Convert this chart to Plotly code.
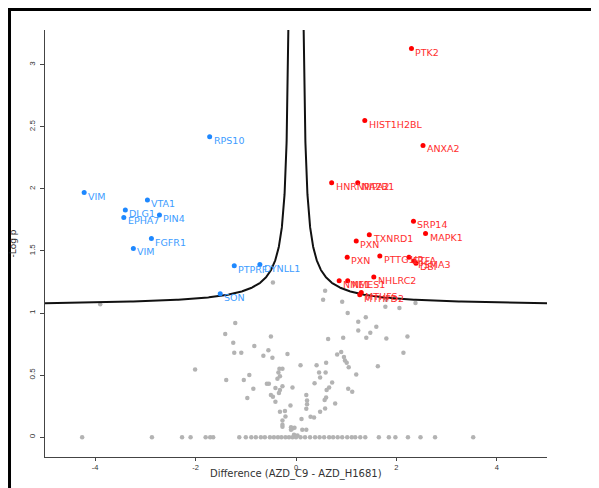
import numpy as np
import plotly.graph_objects as go

# ---- data ----
neg_genes = ["RPS10", "VIM", "VTA1", "DLG1", "EPHA7", "PIN4", "FGFR1", "VIM", "PTPRF", "DYNLL1", "SON"]
neg_x = [-1.72, -4.22, -2.96, -3.40, -3.43, -2.72, -2.88, -3.24, -1.23, -0.72, -1.51]
neg_y = [2.42, 1.97, 1.91, 1.83, 1.77, 1.79, 1.60, 1.52, 1.38, 1.39, 1.155]

pos_genes = ["PTK2", "HIST1H2BL", "ANXA2", "HNRNPA2B1", "NIPA2", "SRP14", "TXNRD1", "MAPK1",
             "PXN", "PXN", "PTTG1IP", "ETFA", "PSMA3", "DBI", "NHLRC2", "NME1", "NMES1",
             "MTHFS", "MTHFD2"]
pos_x = [2.30, 1.37, 2.53, 0.71, 1.23, 2.34, 1.46, 2.58, 1.20, 1.02, 1.67, 2.25, 2.35, 2.39,
         1.55, 0.86, 1.03, 1.30, 1.27]
pos_y = [3.13, 2.55, 2.35, 2.05, 2.05, 1.74, 1.63, 1.64, 1.58, 1.45, 1.46, 1.45, 1.42, 1.40,
         1.29, 1.26, 1.26, 1.165, 1.147]

ns_x = [-3.90, -0.46, 0.58, 0.54, 0.92, 1.80, 2.38, 1.78, 2.06,
        1.03, 1.39, 1.24, 1.60, 1.24, 1.48, 2.22, 0.64, 0.94, 1.40, 1.80, 2.14, 0.90, 0.82,
        0.955, 0.975, 1.01, 1.05, 1.63, 0.09, 0.41, 0.60, 0.46, 0.59, 1.20, 0.48, 0.72, 0.37,
        0.66, 0.61, 1.04, 1.12, 0.205, 0.60, 0.57, 0.22, 0.22, 0.78, 0.58, 0.205, 0.48, 0.29,
        0.36, 0.11, 0.125, 0.205,
        -1.21, -1.41, -0.50, -1.25, -0.83, -1.23, -1.09, -0.55, -0.17, -0.65, -0.47, -2.01,
        -0.33, -0.27, -0.35, -0.93, -0.32, -1.39, -1.04, -0.37, -0.58, -0.54, -0.27, -0.41,
        -0.07, -0.85, -0.32, -0.34, -0.50, -0.46, -0.97, -0.41, -0.11, -0.32, -0.22, -0.21,
        -0.27, -0.27, -0.27, -0.10, -0.07, -0.10, -0.03, -0.04, 0.00, 0.03,
        -4.26, -2.87, -2.27, -2.10, -1.80, -1.71, -1.65, -1.13, -1.00, -0.89, -0.80, -0.70,
        -0.62, -0.52, -0.44, -0.36, -0.29, -0.21, -0.14, -0.07, 0.00, 0.09, 0.18, 0.28, 0.38,
        0.47, 0.56, 0.66, 0.74, 0.83, 0.92, 1.02, 1.11, 1.18, 1.28, 1.38, 1.65, 1.85, 1.98,
        2.23, 2.48, 2.77, 3.53]
ns_y = [1.07, 1.245, 1.18, 1.106, 1.09, 1.106, 1.08, 1.05, 1.04,
        1.00, 0.965, 0.93, 0.89, 0.86, 0.84, 0.81, 0.79, 0.80, 0.80, 0.795, 0.68, 0.685, 0.665,
        0.645, 0.617, 0.60, 0.564, 0.572, 0.58, 0.58, 0.60, 0.52, 0.52, 0.505, 0.48, 0.44, 0.435,
        0.40, 0.38, 0.39, 0.365, 0.34, 0.32, 0.30, 0.295, 0.265, 0.27, 0.23, 0.228, 0.204, 0.164,
        0.158, 0.147, 0.059, 0.059,
        0.92, 0.83, 0.81, 0.76, 0.735, 0.68, 0.68, 0.70, 0.67, 0.655, 0.64, 0.545,
        0.55, 0.55, 0.52, 0.50, 0.49, 0.46, 0.46, 0.47, 0.43, 0.43, 0.41, 0.395,
        0.40, 0.39, 0.38, 0.355, 0.34, 0.325, 0.315, 0.285, 0.255, 0.205, 0.21, 0.166,
        0.134, 0.10, 0.083, 0.08, 0.07, 0.06, 0.075, 0.02, 0.01, 0.013] + [0.0] * 43

# significance threshold curve: y = A + C / (|x| - S0)
CURVE_A = 1.056
CURVE_C = 0.1154
CURVE_S0 = 0.10
X_RANGE = [-5, 5]
Y_RANGE = [-0.16, 3.28]

x_start = CURVE_S0 + CURVE_C / (Y_RANGE[1] + 0.05 - CURVE_A)
cx = np.geomspace(x_start - CURVE_S0, X_RANGE[1] - CURVE_S0, 300) + CURVE_S0
cy = CURVE_A + CURVE_C / (cx - CURVE_S0)

fig = go.Figure()
fig.add_trace(go.Scatter(x=ns_x, y=ns_y, mode="markers",
                         marker=dict(color="#b3b3b3", size=4.5), hoverinfo="skip"))
for sign in (-1, 1):
    fig.add_trace(go.Scatter(x=sign * cx, y=cy, mode="lines",
                             line=dict(color="#111111", width=2), hoverinfo="skip"))
fig.add_trace(go.Scatter(x=neg_x, y=neg_y, mode="markers",
                         marker=dict(color="#1e88ff", size=5), text=neg_genes))
fig.add_trace(go.Scatter(x=pos_x, y=pos_y, mode="markers",
                         marker=dict(color="#ff0000", size=5), text=pos_genes))

annotations = []
for g, x, y in zip(neg_genes, neg_x, neg_y):
    annotations.append(dict(x=x, y=y, text=g, showarrow=False, xanchor="left", yanchor="middle",
                            xshift=2, yshift=-3.5,
                            font=dict(family="DejaVu Sans", size=9.5, color="#3d9cff")))
for g, x, y in zip(pos_genes, pos_x, pos_y):
    annotations.append(dict(x=x, y=y, text=g, showarrow=False, xanchor="left", yanchor="middle",
                            xshift=2, yshift=-3.5,
                            font=dict(family="DejaVu Sans", size=9.5, color="#ff2e2e")))
# x-axis title
annotations.append(dict(x=0.5, y=0, xref="paper", yref="paper", text="Difference (AZD_C9 - AZD_H1681)",
                        showarrow=False, xanchor="center", yanchor="middle", yshift=-16.5,
                        font=dict(family="DejaVu Sans", size=10, color="#333333")))

fig.update_layout(
    width=591, height=480,
    margin=dict(l=37, r=52, t=22, b=31, autoexpand=False),
    paper_bgcolor="white", plot_bgcolor="white",
    showlegend=False,
    annotations=annotations,
    font=dict(family="Liberation Sans, Arial", color="#333333"),
    xaxis=dict(range=X_RANGE, tickvals=[-4, -2, 0, 2, 4], ticktext=["-4", "-2", "0", "2", "4"],
               showline=True, linecolor="#444444", linewidth=1, ticks="outside", ticklen=3,
               tickcolor="#444444", showgrid=False, zeroline=False, automargin=False,
               ticklabelstandoff=0,
               tickfont=dict(size=7.5, color="#333333")),
    yaxis=dict(range=Y_RANGE, tickvals=[0, 0.5, 1, 1.5, 2, 2.5, 3],
               ticktext=["0", "0.5", "1", "1.5", "2", "2.5", "3"], tickangle=-90,
               showline=True, linecolor="#444444", linewidth=1, ticks="outside", ticklen=4,
               tickcolor="#444444", showgrid=False, zeroline=False, ticklabelstandoff=2,
               automargin=False,
               tickfont=dict(size=8, color="#333333"),
               title=dict(text="-Log p", standoff=9,
                          font=dict(family="DejaVu Sans", size=9, color="#333333"))),
    shapes=[
        dict(type="line", xref="paper", yref="paper", x0=-0.0707, x1=-0.0707, y0=1.052, y1=-0.08,
             line=dict(color="black", width=3)),
        dict(type="line", xref="paper", yref="paper", x0=-0.0737, x1=1.11, y0=1.048, y1=1.048,
             line=dict(color="black", width=3)),
    ],
)

fig.write_html("out.html")
